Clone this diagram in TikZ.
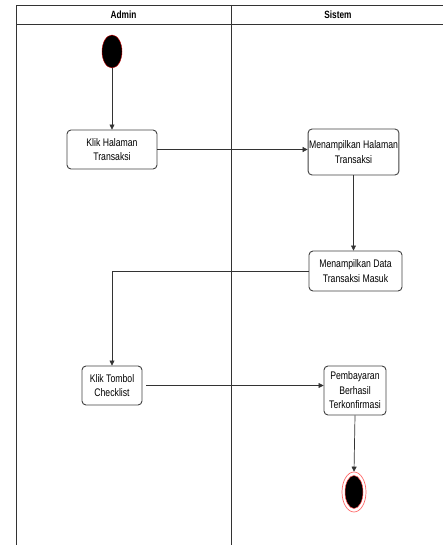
\documentclass[tikz,border=0pt]{standalone}
\usepackage{fontspec}
\setmainfont[FakeStretch=0.79]{Liberation Sans}
\usetikzlibrary{arrows.meta,shapes.geometric}
\begin{document}
\begin{tikzpicture}[x=1pt,y=-1pt,
  lane/.style={draw=black!80, line width=0.8pt},
  act/.style={draw=black!75, line width=0.9pt, rounded corners=4pt, align=center,
    inner sep=1pt, font=\fontsize{11}{14.5}\selectfont},
  flow/.style={draw=black!80, line width=0.7pt, -{Triangle[length=5pt,width=5pt]}},
  startnode/.style={ellipse, fill=black, draw=red!80!black, line width=0.4pt,
    minimum width=20pt, minimum height=33pt, inner sep=0pt},
  endring/.style={ellipse, draw=red!60, line width=0.7pt,
    minimum width=24pt, minimum height=40pt, inner sep=0pt},
  endcore/.style={ellipse, fill=black, draw=red!70, line width=0.5pt,
    minimum width=18pt, minimum height=33pt, inner sep=0pt}]
\useasboundingbox (0,0) rectangle (443,545);

% swimlane frame
\draw[lane] (16,545) -- (16,5) -- (446,5);
\draw[lane] (16,24) -- (446,24);
\draw[lane] (231,5) -- (231,545);
\node[font=\fontsize{10.5}{12}\selectfont\bfseries] (hadmin) at (123.5,15) {Admin};
\node[font=\fontsize{10.5}{12}\selectfont\bfseries] (hsistem) at (338,15) {Sistem};

% activities
\node[startnode] (start) at (112,51.5) {};
\node[act, minimum width=90pt, minimum height=39pt] (kh) at (112,149.5) {Klik Halaman\\Transaksi};
\node[act, minimum width=89pt, minimum height=46pt] (mh) at (353.5,152) {Menampilkan Halaman\\Transaksi};
\node[act, minimum width=93pt, minimum height=40pt] (md) at (355.5,271) {Menampilkan Data\\Transaksi Masuk};
\node[act, minimum width=60pt, minimum height=39pt] (kt) at (112,385.5) {Klik Tombol\\Checklist};
\node[act, minimum width=62pt, minimum height=49pt] (pb) at (355,390.5) {Pembayaran\\Berhasil\\Terkonfirmasi};
\node[endring] (stop) at (354,492) {};
\node[endcore] (stopcore) at (stop.center) {};

% control flow
\draw[flow] (start.south) -- (kh.north);
\draw[flow] (kh.east) -- (kh.east -| mh.west);
\draw[flow] (mh.south) -- (mh.south |- md.north);
\draw[flow] (md.west) -| (kt.north);
\draw[flow, shorten <=4pt] (kt.east) -- (kt.east -| pb.west);
\draw[flow] (pb.south) -- (stop.north);
\end{tikzpicture}
\end{document}
